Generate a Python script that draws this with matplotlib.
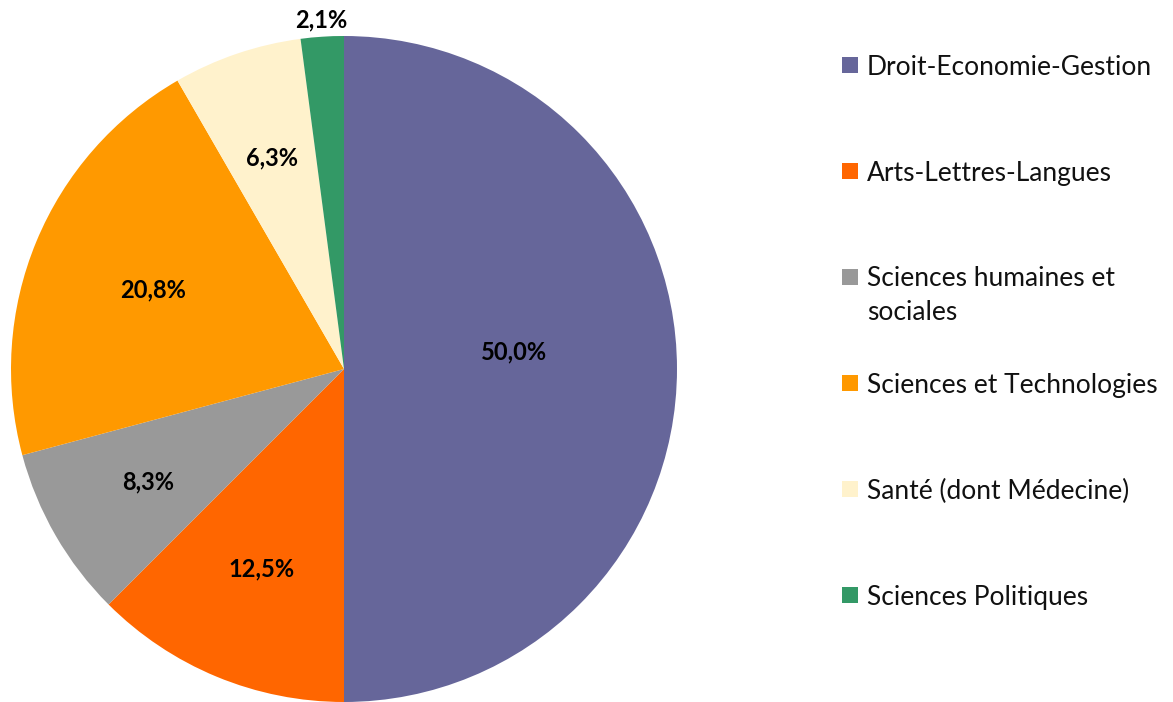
import numpy as np
import matplotlib.pyplot as plt
from matplotlib.patches import Rectangle

# data: number of people per field (percentages shown on the chart)
categories = ["Droit-Economie-Gestion", "Arts-Lettres-Langues",
              "Sciences humaines et\nsociales", "Sciences et Technologies",
              "Santé (dont Médecine)", "Sciences Politiques"]
counts = [24, 6, 4, 10, 3, 1]
colors = ["#66669A", "#FF6600", "#999999", "#FF9900", "#FFF2CC", "#339966"]

# radial position of each percentage label (fraction of radius)
label_r = [0.51, 0.65, 0.68, 0.62, 0.67, 1.05]

plt.rcParams['font.family'] = ['Lato', 'DejaVu Sans']

W, H = 1173, 702
fig = plt.figure(figsize=(W / 100, H / 100), dpi=100)

cx, cy, R = 344, 369, 333
ax = fig.add_axes([(cx - R) / W, (H - cy - R) / H, 2 * R / W, 2 * R / H])
wedges, _ = ax.pie(counts, colors=colors, startangle=90, counterclock=False,
                   radius=1, wedgeprops=dict(linewidth=0))
ax.set_xlim(-1, 1)
ax.set_ylim(-1, 1)
ax.set_aspect('equal')
ax.axis('off')

total = sum(counts)
for i, (w, c, r) in enumerate(zip(wedges, counts, label_r)):
    mid = np.deg2rad((w.theta1 + w.theta2) / 2)
    pct = int(1000 * c / total + 0.5) / 10
    txt = f"{pct:.1f}%".replace('.', ',')
    x, y = r * np.cos(mid), r * np.sin(mid)
    if i == 0:
        y += 0.05  # big slice label sits a bit above the centre line
    ax.text(x, y, txt, ha='center', va='center',
            fontsize=17, fontweight='bold', color='black', clip_on=False)

# manual legend
y0, step = 65, 106
for i, (lab, col) in enumerate(zip(categories, colors)):
    yc = y0 + i * step
    fig.add_artist(Rectangle((842 / W, 1 - (yc + 8) / H), 16 / W, 16 / H,
                             transform=fig.transFigure, color=col, lw=0))
    if '\n' in lab:
        fig.text(867 / W, 1 - (yc - 11) / H, lab, ha='left', va='top',
                 fontsize=19, color='#111111', linespacing=1.46)
    else:
        fig.text(867 / W, 1 - yc / H, lab, ha='left', va='center_baseline',
                 fontsize=19, color='#111111')

fig.savefig('out.png', dpi=100)
